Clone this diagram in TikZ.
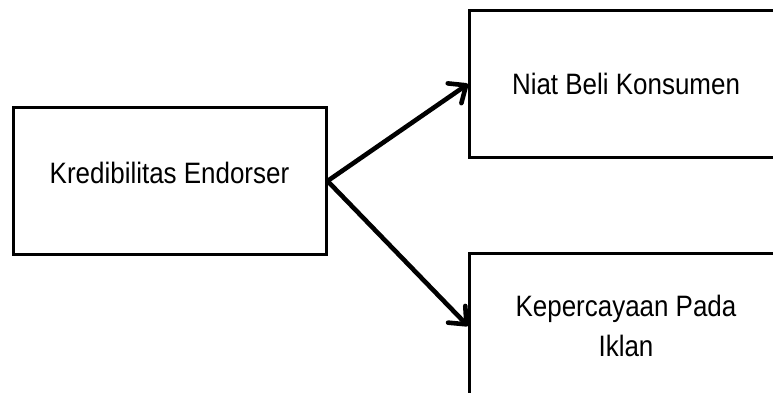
\documentclass[tikz,border=0pt]{standalone}
\usepackage{fontspec}
\setmainfont{Liberation Sans}[FakeStretch=0.88]
\usetikzlibrary{arrows.meta}

\begin{document}
\begin{tikzpicture}[x=1pt,y=-1pt]
  \tikzset{
    varbox/.style={draw,line width=3pt,minimum width=313pt,minimum height=146pt,
      inner sep=0pt,align=center,font=\fontsize{29.5}{40}\selectfont},
    link/.style={line width=4.6pt,line cap=round,
      -{Straight Barb[length=14pt,width=24pt,round]}}
  }
  \useasboundingbox (0,0) rectangle (773,393);
  \clip (0,0) rectangle (773,393);
  \node[varbox,text depth=16pt] (kred) at (169.5,181) {Kredibilitas Endorser};
  \node[varbox] (niat) at (626,84) {Niat Beli Konsumen};
  \node[varbox] (percaya) at (626,326) {Kepercayaan Pada\\Iklan};
  \draw[link] (kred.east) -- (niat.west);
  \draw[link] (kred.east) -- (percaya.west);
\end{tikzpicture}
\end{document}
